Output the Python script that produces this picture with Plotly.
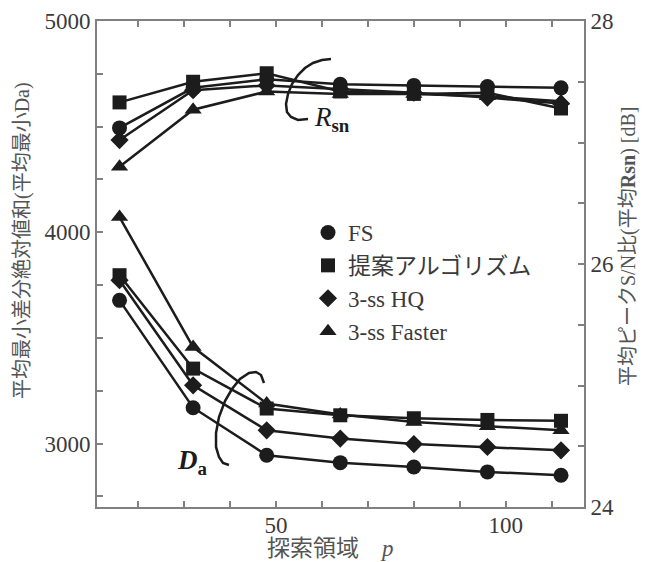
import plotly.graph_objects as go

# ---------------- data ----------------
p_values = [16, 32, 48, 64, 80, 96, 112]
series_names = ["FS", "提案アルゴリズム", "3-ss HQ", "3-ss Faster"]
symbols = ["circle", "square", "diamond", "triangle-up"]
marker_sizes = [15, 14, 14, 15]

# average minimum SAD (left axis)
da_fs = [3678, 3170, 2945, 2910, 2889, 2866, 2850]
da_prop = [3797, 3355, 3166, 3134, 3120, 3112, 3108]
da_hq = [3773, 3276, 3063, 3024, 2998, 2984, 2968]
da_faster = [4072, 3457, 3190, 3138, 3102, 3082, 3063]

# average peak S/N [dB] (right axis)
rsn_fs = [27.12, 27.45, 27.52, 27.48, 27.47, 27.46, 27.45]
rsn_prop = [27.33, 27.50, 27.57, 27.42, 27.40, 27.41, 27.28]
rsn_hq = [27.02, 27.43, 27.47, 27.44, 27.41, 27.37, 27.32]
rsn_faster = [26.80, 27.27, 27.42, 27.40, 27.40, 27.38, 27.34]

da_all = [da_fs, da_prop, da_hq, da_faster]
rsn_all = [rsn_fs, rsn_prop, rsn_hq, rsn_faster]

x_tick_vals = [20, 30, 40, 50, 60, 70, 80, 90, 100, 110]
x_tick_text = ["", "", "", "50", "", "", "", "", "100", ""]
y_tick_vals = [2750, 3000, 3250, 3500, 3750, 4000, 4250, 4500, 4750, 5000]
y_tick_text = ["", "3000", "", "", "", "4000", "", "", "", "5000"]
y2_tick_vals = [24, 24.5, 25, 25.5, 26, 26.5, 27, 27.5, 28]
y2_tick_text = ["24", "", "", "", "26", "", "", "", "28"]

# ---------------- figure ----------------
W, H = 646, 562
L, R, T, B = 97, 584, 21, 507

def px(x):
    return (x - L) / (R - L)

def py(y):
    return (B - y) / (B - T)

LATIN = "Liberation Serif, Times New Roman, Tinos, serif"
MIXED = "Liberation Serif, Times New Roman, Noto Sans CJK JP, serif"
LINE_COLOR = "#1c1c1c"
AXIS_COLOR = "#808080"
TEXT_COLOR = "#3a3a3a"

fig = go.Figure()

for name, sym, ms, da in zip(series_names, symbols, marker_sizes, da_all):
    fig.add_trace(go.Scatter(
        x=p_values, y=da, mode="lines+markers", showlegend=False,
        line=dict(color=LINE_COLOR, width=2.5),
        marker=dict(symbol=sym, size=ms, color=LINE_COLOR),
        yaxis="y", name=name))

for name, sym, ms, rs in zip(series_names, symbols, marker_sizes, rsn_all):
    fig.add_trace(go.Scatter(
        x=p_values, y=rs, mode="lines+markers", showlegend=False,
        line=dict(color=LINE_COLOR, width=2.5),
        marker=dict(symbol=sym, size=ms, color=LINE_COLOR),
        yaxis="y2", name=name))

# legend-only entries (markers only)
for name, sym, ms in zip(series_names, symbols, marker_sizes):
    fig.add_trace(go.Scatter(
        x=[None], y=[None], mode="markers", name=name,
        marker=dict(symbol=sym, size=ms, color=LINE_COLOR),
        showlegend=True))

axis_common = dict(
    showline=True, linecolor=AXIS_COLOR, linewidth=2,
    ticks="inside", ticklen=6, tickwidth=1.5, tickcolor=AXIS_COLOR,
    showgrid=False, zeroline=False, automargin=False,
    tickfont=dict(family=LATIN, size=23, color=TEXT_COLOR),
)

fig.update_layout(
    width=W, height=H,
    margin=dict(l=L, r=W - R, t=T, b=H - B, pad=0, autoexpand=False),
    paper_bgcolor="white", plot_bgcolor="white",
    font=dict(family=MIXED, color=TEXT_COLOR),
    xaxis=dict(range=[11.1, 117], tickmode="array", tickvals=x_tick_vals,
               ticktext=x_tick_text, mirror="ticks", ticklabelstandoff=-4,
               **axis_common),
    yaxis=dict(range=[2700, 5000], tickmode="array", tickvals=y_tick_vals,
               ticktext=y_tick_text, **axis_common),
    yaxis2=dict(range=[24, 28], tickmode="array", tickvals=y2_tick_vals,
                ticktext=y2_tick_text, overlaying="y", side="right",
                **axis_common),
    legend=dict(x=px(308), y=py(211), xanchor="left", yanchor="top",
                bgcolor="rgba(0,0,0,0)", borderwidth=0,
                font=dict(family=MIXED, size=23, color=TEXT_COLOR),
                tracegroupgap=0, itemsizing="trace"),
)

# axis titles as annotations
fig.add_annotation(x=px(22), y=py(241), xref="paper", yref="paper",
                   xanchor="center", yanchor="middle",
                   text="平均最小差分絶対値和(平均最小Da)", textangle=-90,
                   showarrow=False, font=dict(family=MIXED, size=20, color="#555555"))
fig.add_annotation(x=px(628), y=py(247), xref="paper", yref="paper",
                   xanchor="center", yanchor="middle",
                   text="平均ピークS/N比(平均<b>Rsn</b>) [dB]", textangle=-90,
                   showarrow=False, font=dict(family=MIXED, size=20, color="#555555"))
fig.add_annotation(x=px(330), y=py(548), xref="paper", yref="paper",
                   xanchor="center", yanchor="middle",
                   text="探索領域　<i>p</i>", showarrow=False,
                   font=dict(family=MIXED, size=23, color="#555555"))

# curve labels
fig.add_annotation(x=px(332), y=py(119), xref="paper", yref="paper",
                   xanchor="center", yanchor="middle",
                   text="<i>R</i><sub><b>sn</b></sub>", showarrow=False,
                   font=dict(family=LATIN, size=27, color=LINE_COLOR))
fig.add_annotation(x=px(192), y=py(462), xref="paper", yref="paper",
                   xanchor="center", yanchor="middle",
                   text="<b><i>D</i></b><sub><b>a</b></sub>", showarrow=False,
                   font=dict(family=LATIN, size=27, color=LINE_COLOR))

def pth(points):
    s = "M {:.4f},{:.4f}".format(px(points[0][0]), py(points[0][1]))
    for (x, y) in points[1:]:
        s += " L {:.4f},{:.4f}".format(px(x), py(y))
    return s

rsn_curve = [(331, 59), (322, 60), (313, 63), (305, 68), (298, 75), (292, 84),
             (288, 94), (286, 104), (287, 112), (291, 117), (298, 120), (308, 119)]
da_curve = [(264, 383), (261, 375), (256, 372), (249, 373), (240, 379), (232, 389),
            (225, 401), (219, 417), (216, 433), (216, 447), (219, 457), (223, 463), (229, 465)]

for c in (rsn_curve, da_curve):
    fig.add_shape(type="path", xref="paper", yref="paper", path=pth(c),
                  line=dict(color=LINE_COLOR, width=2.5))

fig.write_html("out.html")
